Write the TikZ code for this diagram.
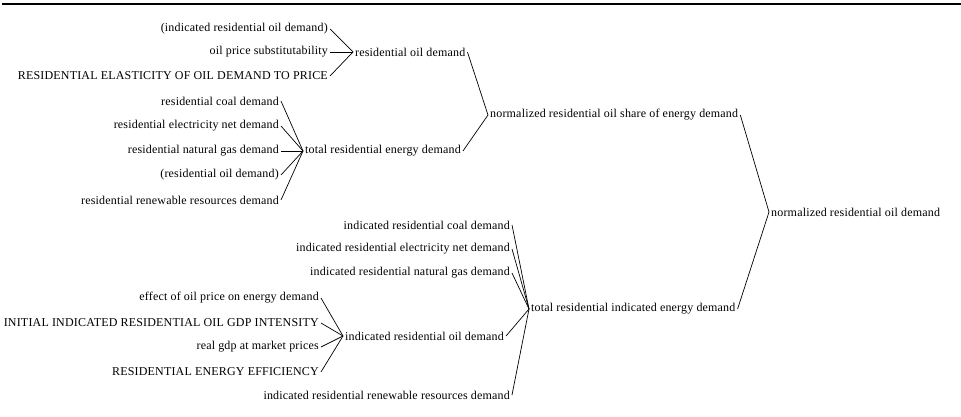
\documentclass[tikz,border=0pt]{standalone}
\usepackage{fontspec}
\setmainfont{Liberation Serif}[LetterSpace=1.5]
\begin{document}
\begin{tikzpicture}[x=1pt,y=-1pt,
  lbl/.style={inner xsep=2pt,inner ysep=1pt,font=\fontsize{12}{14}\selectfont},
  src/.style={lbl,anchor=east},
  tgt/.style={lbl,anchor=west},
  link/.style={draw=black,line width=0.7pt}]
\useasboundingbox (0,0) rectangle (961,417);
\draw[line width=2.6pt] (2,4) -- (961,4);
% group 1
\node[src] (i1) at (330,29) {(indicated residential oil demand)};
\node[src] (i2) at (330,52) {oil price substitutability};
\node[src] (i3) at (330,76) {RESIDENTIAL ELASTICITY OF OIL DEMAND TO PRICE};
\node[tgt] (rod) at (353,52) {residential oil demand};
% group 2
\node[src] (c1) at (281,101) {residential coal demand};
\node[src] (c2) at (281,126) {residential electricity net demand};
\node[src] (c3) at (281,151) {residential natural gas demand};
\node[src] (c4) at (281,175) {(residential oil demand)};
\node[src] (c5) at (281,200) {residential renewable resources demand};
\node[tgt] (tred) at (303,151) {total residential energy demand};
% group 5
\node[tgt] (nros) at (488,115) {normalized residential oil share of energy demand};
\node[tgt] (nrod) at (769,212) {normalized residential oil demand};
% group 4
\node[src] (d1) at (512,225) {indicated residential coal demand};
\node[src] (d2) at (512,249) {indicated residential electricity net demand};
\node[src] (d3) at (512,273) {indicated residential natural gas demand};
\node[tgt] (irod) at (343,336) {indicated residential oil demand};
\node[src] (d5) at (512,395) {indicated residential renewable resources demand};
\node[tgt] (trid) at (529,309) {total residential indicated energy demand};
% group 3
\node[src] (e1) at (321,298) {effect of oil price on energy demand};
\node[src] (e2) at (321,323) {INITIAL INDICATED RESIDENTIAL OIL GDP INTENSITY};
\node[src] (e3) at (321,347) {real gdp at market prices};
\node[src] (e4) at (321,372) {RESIDENTIAL ENERGY EFFICIENCY};
% links
\foreach \s in {i1,i2,i3} \draw[link] (\s.east) -- (rod.west);
\foreach \s in {c1,c2,c3,c4,c5} \draw[link] (\s.east) -- (tred.west);
\foreach \s in {e1,e2,e3,e4} \draw[link] (\s.east) -- (irod.west);
\foreach \s in {d1,d2,d3,irod,d5} \draw[link] (\s.east) -- (trid.west);
\foreach \s in {rod,tred} \draw[link] (\s.east) -- (nros.west);
\foreach \s in {nros,trid} \draw[link] (\s.east) -- (nrod.west);
\end{tikzpicture}
\end{document}
